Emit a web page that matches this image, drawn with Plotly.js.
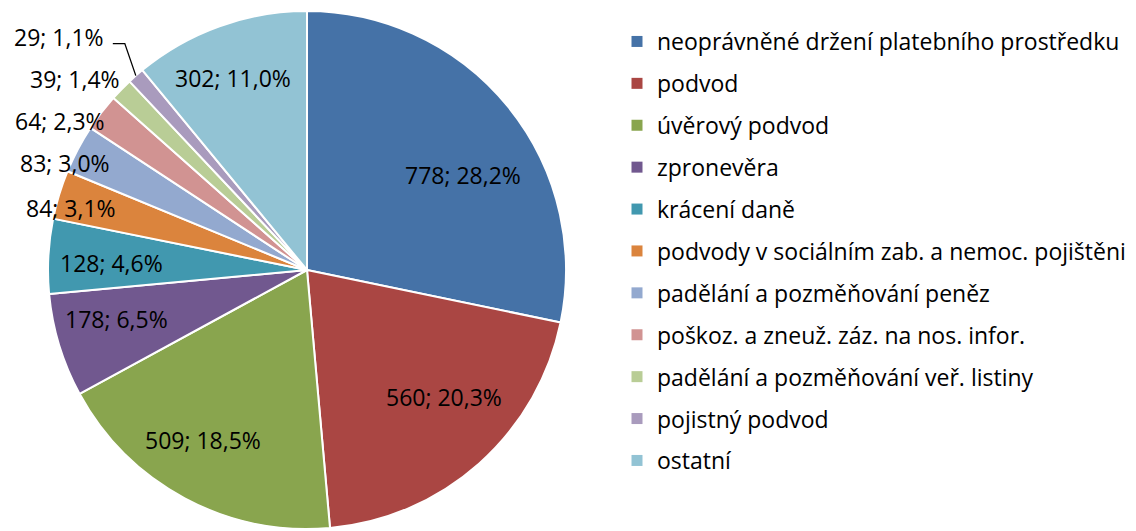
<!DOCTYPE html>
<html>
<head>
<meta charset="utf-8">
<script src="https://cdn.plot.ly/plotly-3.0.1.min.js"></script>
<style>html,body{margin:0;padding:0;background:#fff;}#chart{width:1136px;height:531px;}</style>
</head>
<body>
<div id="chart"></div>
<script>
// ---- data ----
const categories = [
  "neoprávněné držení platebního prostředku",
  "podvod",
  "úvěrový podvod",
  "zpronevěra",
  "krácení daně",
  "podvody v sociálním zab. a nemoc. pojištěni",
  "padělání a pozměňování peněz",
  "poškoz. a zneuž. záz. na nos. infor.",
  "padělání a pozměňování veř. listiny",
  "pojistný podvod",
  "ostatní"
];
const counts = [778, 560, 509, 178, 128, 84, 83, 64, 39, 29, 302];
const sliceColors = ["#4572A7", "#AA4643", "#89A54E", "#71588F", "#4198AF", "#DB843D",
                     "#93A9CF", "#D19392", "#B9CD96", "#A99BBD", "#92C3D4"];

// ---- layout settings ----
const W = 1136, H = 531;
const CX = 307, CY = 270, R = 259;
const FONT = "Open Sans, Liberation Sans, Arial, sans-serif";
const LABEL_SIZE = 23;
// pixel offset of each data label from the rim point at its slice's mid-angle
const labelOffsets = [[-45, 69], [-35, -66], [18, -58], [57, -26], [63, 7], [12, 13],
                      [-13, 14], [-41, 8], [-46, -10], [-77, -39], [13, 52]];
// leader line (relative to rim point) for the slice with index leaderIdx
const leaderIdx = 9;
const leaderPts = [[-11, -32], [-23, -32]];

const domX = [(CX - R) / W, (CX + R) / W];
const domY = [1 - (CY + R) / H, 1 - (CY - R) / H];

const total = counts.reduce((a, b) => a + b, 0);

const pie = {
  type: "pie",
  values: counts,
  labels: categories,
  sort: false,
  direction: "clockwise",
  rotation: 0,
  domain: {x: domX, y: domY},
  marker: {colors: sliceColors, line: {color: "#ffffff", width: 2}},
  textinfo: "none",
  showlegend: false,
  hoverinfo: "label+value+percent"
};

// legend entries via empty marker traces (one group each for spacing)
const legendTraces = categories.map((c, i) => ({
  type: "scatter",
  mode: "markers",
  x: [null], y: [null],
  name: c,
  legendgroup: "g" + i,
  marker: {symbol: "square", size: 11, color: sliceColors[i]},
  hoverinfo: "skip"
}));

const toPX = (px) => px / W;
const toPY = (py) => 1 - py / H;

// data labels positioned from each slice's mid-angle
let cum = 0;
const annotations = [];
const shapes = [];
counts.forEach((v, i) => {
  const start = cum;
  cum += v;
  const mid = (start + v / 2) / total; // fraction of turn, clockwise from top
  const ang = mid * 2 * Math.PI;
  const px = CX + R * Math.sin(ang);
  const py = CY - R * Math.cos(ang);
  const pct = (v / total * 100).toFixed(1).replace(".", ",");
  const off = labelOffsets[i];
  annotations.push({
    xref: "paper", yref: "paper",
    x: toPX(px + off[0]), y: toPY(py + off[1]),
    xanchor: "center", yanchor: "middle",
    text: v + "; " + pct + "%",
    showarrow: false,
    font: {family: FONT, size: LABEL_SIZE, color: "#000000"}
  });
  if (i === leaderIdx) {
    let path = "M " + toPX(px) + " " + toPY(py);
    leaderPts.forEach(p => { path += " L " + toPX(px + p[0]) + " " + toPY(py + p[1]); });
    shapes.push({type: "path", xref: "paper", yref: "paper", path: path,
                 line: {color: "#000000", width: 1.3}});
  }
});

const layout = {
  width: W, height: H,
  margin: {l: 0, r: 0, t: 0, b: 0},
  paper_bgcolor: "#ffffff",
  plot_bgcolor: "#ffffff",
  separators: ",.",
  xaxis: {visible: false, domain: [0.6, 0.61]},
  yaxis: {visible: false},
  showlegend: true,
  legend: {
    x: 617 / W, y: 1 - 20 / H, xanchor: "left", yanchor: "top",
    traceorder: "grouped",
    tracegroupgap: 9,
    font: {family: FONT, size: 23, color: "#000000"},
    bgcolor: "rgba(0,0,0,0)"
  },
  annotations: annotations,
  shapes: shapes
};

Plotly.newPlot("chart", legendTraces.concat([pie]), layout, {displayModeBar: false, staticPlot: true});
</script>
</body>
</html>
